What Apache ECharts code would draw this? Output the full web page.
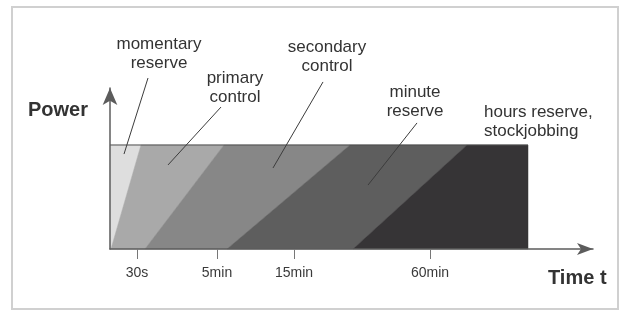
<!DOCTYPE html>
<html>
<head>
<meta charset="utf-8">
<title>Power reserve</title>
<script src="https://cdn.jsdelivr.net/npm/echarts@6/dist/echarts.min.js"></script>
<style>
html,body{margin:0;padding:0;background:#fff;}
#reserveChart{width:622px;height:311px;}
</style>
</head>
<body>
<div id="reserveChart"></div>
<script>
// band edges on the time axis, at power 0 (bottom) and at full power (top)
var bottomEdge = [0, 0.2, 7, 23.4, 48.6, 83.6];
var topEdge = [0, 6.2, 22.8, 48, 71.4, 83.6];
var powerLevel = 1;
var bandNames = ['momentary reserve', 'primary control', 'secondary control', 'minute reserve', 'hours reserve, stockjobbing'];
// time axis ticks
var tickValues = [5.4, 21.4, 36.8, 64];
var tickLabels = ['30s', '5min', '15min', '60min'];
// leader lines from the labels into the bands
var leaderFrom = [[7.6, 1.644], [22.2, 1.365], [42.6, 1.606], [61.4, 1.212]];
var leaderTo = [[2.8, 0.913], [11.6, 0.808], [32.6, 0.779], [51.6, 0.615]];

var bandColors = ['#dedede', '#a9a9a9', '#878787', '#5e5e5e', '#363436'];
var fontName = '"Liberation Sans", Arial, sans-serif';

var reserveChart = {
	init: function(){
		var myChart = echarts.init(document.getElementById('reserveChart'), null, {renderer: 'canvas'});
		myChart.setOption(reserveChart.buildOption());
	},
	buildOption: function(){
		var bandData = [];
		for(var i=0; i<bandNames.length; i++){
			bandData.push({
				name: bandNames[i],
				value: [bottomEdge[i], bottomEdge[i+1], topEdge[i+1], topEdge[i], powerLevel]
			});
		}
		var leaderData = [];
		for(var j=0; j<leaderFrom.length; j++){
			leaderData.push([leaderFrom[j][0], leaderFrom[j][1], leaderTo[j][0], leaderTo[j][1]]);
		}
		var option = {
			animation: false,
			backgroundColor: '#fff',
			grid: {left: 110, top: 88, width: 483, height: 161, containLabel: false, outerBoundsMode: 'none'},
			xAxis: {
				type: 'value', min: 0, max: 96.6, z: 10,
				axisLine: {show: true, symbol: ['none', 'arrow'], symbolSize: [9, 16], lineStyle: {color: '#5c5c5c', width: 1.5}},
				axisTick: {show: true, customValues: tickValues, length: 10, lineStyle: {color: '#777', width: 1}},
				axisLabel: {
					show: true, customValues: tickValues, margin: 17, color: '#3a3a3a', fontSize: 14, fontFamily: fontName,
					formatter: function(v){
						var k = tickValues.indexOf(v);
						return k > -1 ? tickLabels[k] : '';
					}
				},
				splitLine: {show: false}
			},
			yAxis: {
				type: 'value', min: 0, max: 1.548, z: 10,
				axisLine: {show: true, symbol: ['none', 'arrow'], symbolSize: [11, 17], lineStyle: {color: '#5c5c5c', width: 1.5}},
				axisTick: {show: false},
				axisLabel: {show: false},
				splitLine: {show: false}
			},
			series: [
				{
					// the five reserve bands
					type: 'custom',
					data: bandData,
					silent: true,
					renderItem: function(params, api){
						var pts = [
							api.coord([api.value(0), 0]),
							api.coord([api.value(1), 0]),
							api.coord([api.value(2), api.value(4)]),
							api.coord([api.value(3), api.value(4)])
						];
						var c = bandColors[params.dataIndex];
						return {type: 'polygon', shape: {points: pts}, style: {fill: c, stroke: c, lineWidth: 0.5}};
					}
				},
				{
					// top edge of the bands
					type: 'line',
					data: [[topEdge[0], powerLevel], [topEdge[topEdge.length-1], powerLevel]],
					symbol: 'none', silent: true,
					lineStyle: {color: '#4e4e4e', width: 1}
				},
				{
					type: 'custom',
					data: leaderData,
					silent: true,
					z: 5,
					renderItem: function(params, api){
						var a = api.coord([api.value(0), api.value(1)]);
						var b = api.coord([api.value(2), api.value(3)]);
						return {type: 'line', shape: {x1: a[0], y1: a[1], x2: b[0], y2: b[1]}, style: {stroke: '#3c3c3c', lineWidth: 1}};
					}
				}
			],
			graphic: [
				{type: 'rect', shape: {x: 12, y: 7, width: 606, height: 302}, style: {fill: 'none', stroke: '#d0d0d0', lineWidth: 2}, silent: true},
				{type: 'text', left: 28, top: 100, style: {text: 'Power', font: 'bold 20px ' + fontName, fill: '#333'}},
				{type: 'text', left: 548, top: 268, style: {text: 'Time t', font: 'bold 20px ' + fontName, fill: '#333'}},
				reserveChart.note(bandNames[0], 'momentary\nreserve', 159, 54, 'center'),
				reserveChart.note(bandNames[1], 'primary\ncontrol', 235, 87.5, 'center'),
				reserveChart.note(bandNames[2], 'secondary\ncontrol', 327, 56.5, 'center'),
				reserveChart.note(bandNames[3], 'minute\nreserve', 415, 101.5, 'center'),
				reserveChart.note(bandNames[4], 'hours reserve,\nstockjobbing', 484, 122, 'left')
			]
		};
		return option;
	},
	//标注文字
	note: function(id, txt, x, y, align){
		return {
			type: 'text', id: id, x: x, y: y, silent: true,
			style: {text: txt, font: '17px ' + fontName, fill: '#333', lineHeight: 19, textAlign: align, textVerticalAlign: 'middle'}
		};
	}
};

reserveChart.init();
</script>
</body>
</html>
